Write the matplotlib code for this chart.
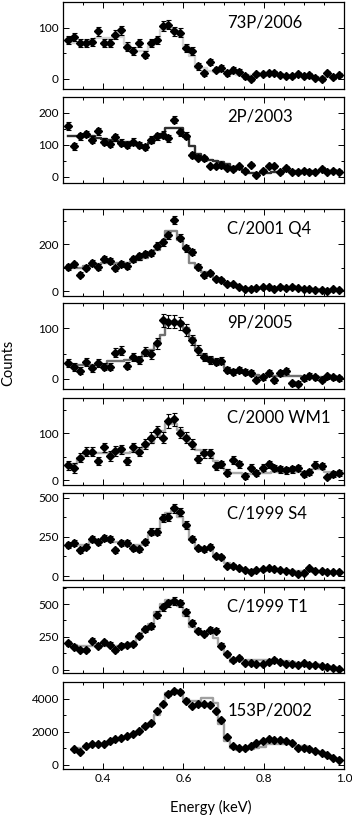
import matplotlib
matplotlib.use("Agg")
import matplotlib.pyplot as plt
from matplotlib.ticker import MultipleLocator

plt.rcParams['font.family'] = ['Lato', 'DejaVu Sans']

energy = [0.313, 0.328, 0.342, 0.357, 0.372, 0.386, 0.401, 0.416, 0.430, 0.445,
          0.460, 0.474, 0.489, 0.504, 0.518, 0.533, 0.548, 0.562, 0.577, 0.592,
          0.606, 0.621, 0.636, 0.650, 0.665, 0.680, 0.694, 0.709, 0.724, 0.738,
          0.753, 0.768, 0.782, 0.797, 0.812, 0.826, 0.841, 0.856, 0.870, 0.885,
          0.900, 0.914, 0.929, 0.944, 0.958, 0.973, 0.988]

names = ["73P/2006", "2P/2003", "C/2001 Q4", "9P/2005",
         "C/2000 WM1", "C/1999 S4", "C/1999 T1", "153P/2002"]

counts_73p = [76, 81, 70, 70, 72, 93, 70, 70, 86, 95, 63, 54, 70, 47, 70, 76, 103, 106, 93, 90,
              60, 54, 24, 11, 32, 18, 21, 11, 18, 14, 5, 0, 10, 10, 12, 12, 8, 6, 5, 10,
              6, 8, 1, 0, 12, 3, 8]
err_73p = [8, 8, 8, 8, 8, 9, 8, 8, 9, 9, 8, 8, 8, 7, 8, 8, 9, 9, 9, 9, 8, 8, 6, 5, 6, 5, 5, 5, 5, 5,
           5, 4, 4, 4, 4, 4, 4, 4, 4, 4, 4, 4, 4, 4, 4, 4, 4]
model_73p = [70, 70, 70, 72, 75, 80, 80, 80, 82, 82, 68, 58, 55, 55, 65, 75, 95, 100, 98, 90,
             65, 45, 22, 22, 16, 14, 14, 12, 10, 8, 6, 8, 8, 8, 8, 7, 7, 6, 6, 5,
             5, 4, 4, 3, 3, 3, 3]

counts_2p = [158, 95, 126, 134, 116, 142, 110, 102, 123, 107, 100, 110, 100, 93, 116, 126, 132, 121, 179, 140,
             129, 68, 60, 58, 32, 32, 37, 28, 24, 32, 18, 37, 5, 18, 32, 32, 14, 28, 14, 14,
             18, 14, 16, 24, 16, 18, 16]
err_2p = [12, 10, 10, 10, 10, 11, 10, 10, 10, 10, 10, 10, 10, 9, 10, 10, 11, 11, 12, 11, 11, 8, 8, 8, 6, 6,
          6, 6, 5, 5, 5, 5, 4, 5, 5, 5, 5, 5, 5, 5, 5, 5, 5, 5, 5, 5, 5]
model_2p = [126, 126, 126, 126, 126, 121, 118, 115, 112, 110, 108, 105, 100, 95, 105, 120, 135, 152, 152, 152,
            125, 95, 70, 60, 52, 50, 45, 40, 30, 25, 15, 12, 12, 12, 12, 14, 16, 18, 18, 18,
            18, 18, 18, 18, 18, 18, 18]

counts_q4 = [104, 114, 71, 101, 119, 104, 138, 130, 97, 116, 107, 136, 148, 159, 162, 194, 209, 238, 303, 228,
             184, 167, 104, 68, 78, 54, 49, 29, 29, 17, 10, 10, 13, 17, 17, 10, 20, 14, 20, 13,
             10, 10, 6, 6, 3, 10, 6]
err_q4 = [12, 12, 10, 12, 12, 12, 13, 13, 12, 12, 12, 13, 13, 14, 14, 15, 15, 16, 17, 16, 15, 14, 12, 10, 10,
          8, 8, 6, 6, 5, 5, 5, 5, 5, 5, 5, 5, 5, 5, 5, 5, 5, 5, 5, 5, 5, 5]
model_q4 = [97, 97, 97, 107, 107, 115, 119, 119, 119, 119, 122, 126, 132, 141, 160, 177, 200, 256, 256, 220,
            184, 119, 97, 80, 75, 55, 49, 35, 25, 18, 12, 12, 12, 13, 13, 13, 13, 13, 13, 12,
            10, 10, 8, 6, 6, 6, 6]

counts_9p = [31, 24, 16, 34, 21, 31, 24, 24, 52, 56, 26, 43, 38, 54, 49, 70, 116, 113, 113, 110,
             97, 76, 57, 43, 38, 34, 36, 18, 14, 18, 14, 12, -2, 3, 12, -3, 12, 16, -9, -10,
             1, 6, 3, -2, 5, 3, 1]
err_9p = [8, 8, 7, 8, 7, 8, 7, 7, 9, 9, 7, 8, 8, 9, 9, 10, 13, 13, 13, 13, 12, 10, 9, 8, 8, 7, 7, 6, 6, 6,
          6, 6, 5, 5, 6, 5, 6, 6, 5, 5, 5, 5, 5, 5, 5, 5, 5]
model_9p = [28, 28, 28, 28, 28, 28, 28, 36, 36, 36, 38, 41, 41, 51, 58, 67, 87, 113, 113, 113,
            100, 80, 60, 48, 42, 38, 36, 21, 18, 16, 14, 10, 8, 6, 6, 6, 6, 6, 5, 5,
            3, 3, 3, 3, 3, 3, 3]

counts_wm1 = [32, 26, 48, 61, 61, 41, 70, 52, 62, 66, 41, 70, 61, 77, 91, 104, 91, 126, 130, 101,
              91, 77, 45, 57, 57, 30, 34, 16, 43, 34, 9, 27, 16, 27, 34, 26, 23, 21, 23, 26,
              13, 18, 33, 30, 7, 14, 16]
err_wm1 = [10, 10, 10, 10, 10, 9, 10, 10, 10, 10, 9, 10, 10, 11, 11, 12, 12, 14, 14, 12, 12, 11, 9, 10, 10,
           8, 8, 7, 9, 8, 6, 7, 6, 7, 8, 7, 7, 7, 7, 7, 6, 6, 7, 7, 5, 6, 6]
model_wm1 = [34, 34, 48, 59, 59, 59, 59, 59, 59, 59, 59, 60, 62, 70, 80, 95, 105, 119, 119, 108,
             94, 77, 65, 59, 55, 41, 30, 22, 16, 16, 13, 13, 13, 15, 16, 18, 18, 18, 18, 18,
             18, 20, 23, 23, 18, 15, 13]

counts_s4 = [198, 209, 166, 187, 234, 219, 245, 234, 166, 209, 209, 177, 170, 219, 283, 283, 368, 379, 432, 411,
             326, 234, 177, 170, 187, 128, 123, 64, 64, 49, 38, 28, 38, 43, 49, 43, 38, 34, 28, 13,
             17, 49, 32, 32, 28, 28, 28]
err_s4 = [18, 18, 16, 17, 19, 18, 20, 19, 16, 18, 18, 16, 16, 18, 22, 22, 26, 26, 27, 26, 23, 19, 16, 16, 17,
          14, 14, 10, 10, 9, 8, 7, 8, 8, 9, 8, 8, 8, 7, 6, 6, 9, 7, 7, 7, 7, 7]
model_s4 = [187, 198, 198, 200, 220, 230, 230, 225, 215, 212, 209, 200, 198, 220, 260, 290, 357, 400, 417, 380,
            330, 230, 177, 177, 170, 134, 110, 81, 60, 49, 40, 36, 36, 36, 36, 36, 36, 34, 32, 30,
            30, 30, 28, 28, 28, 28, 28]

counts_t1 = [202, 172, 152, 152, 222, 184, 210, 192, 152, 184, 189, 197, 260, 311, 336, 419, 475, 505, 525, 505,
             437, 354, 298, 273, 303, 298, 184, 121, 71, 91, 51, 51, 45, 45, 58, 76, 58, 45, 45, 33,
             51, 38, 33, 25, 20, 15, 8]
err_t1 = [18, 16, 15, 15, 18, 17, 18, 17, 15, 17, 17, 17, 20, 22, 23, 25, 27, 28, 29, 28, 26, 23, 21, 20, 21,
          21, 17, 14, 10, 12, 9, 9, 9, 9, 10, 11, 10, 9, 9, 8, 9, 8, 8, 7, 6, 5, 4]
model_t1 = [197, 190, 180, 177, 184, 184, 184, 184, 184, 184, 184, 202, 247, 298, 348, 437, 500, 530, 530, 487,
            412, 323, 285, 285, 285, 242, 197, 121, 60, 71, 71, 71, 71, 71, 71, 68, 66, 66, 60, 51,
            51, 45, 45, 35, 25, 20, 12]

energy_153p = energy[1:]
counts_153p = [929, 788, 1131, 1232, 1232, 1273, 1434, 1535, 1636, 1737, 1879, 2040, 2343, 2545, 3252, 3697,
               4263, 4465, 4424, 3859, 3556, 3657, 3657, 3616, 3252, 2687, 1677, 1131, 1030, 1030, 1131, 1333,
               1434, 1535, 1495, 1475, 1434, 1333, 1030, 990, 929, 828, 727, 586, 384, 263]
err_153p = [40, 45, 50, 55, 55, 55, 58, 60, 62, 65, 67, 70, 75, 80, 90, 95, 100, 100, 100, 95, 93, 94, 94,
            94, 90, 80, 63, 52, 50, 50, 52, 56, 58, 60, 60, 60, 59, 57, 52, 50, 47, 44, 42, 37, 30, 25]
model_153p = [828, 1030, 1100, 1180, 1230, 1280, 1380, 1480, 1580, 1700, 1780, 2000, 2300, 2444, 3000, 3600,
              4364, 4364, 4364, 3960, 3860, 3860, 4061, 4061, 3758, 2444, 1434, 1030, 869, 869, 930, 990,
              1100, 1232, 1232, 1232, 1273, 1273, 1131, 1131, 1000, 828, 700, 525, 400, 263]

panels = [
    (energy, counts_73p, err_73p, model_73p),
    (energy, counts_2p, err_2p, model_2p),
    (energy, counts_q4, err_q4, model_q4),
    (energy, counts_9p, err_9p, model_9p),
    (energy, counts_wm1, err_wm1, model_wm1),
    (energy, counts_s4, err_s4, model_s4),
    (energy, counts_t1, err_t1, model_t1),
    (energy_153p, counts_153p, err_153p, model_153p),
]

# layout / style (pixels in a 352x816 figure)
W, H = 352, 816
tops = [2, 97, 209, 303, 398, 493, 587, 682]
bots = [89, 183, 296, 389, 485, 580, 673, 769]
left_px, right_px = 63, 344
ylims = [(-20, 150), (-20, 250), (-20, 350), (-20, 150), (-10, 175), (-25, 530), (-25, 630), (-250, 5000)]
ymaj = [100, 100, 200, 100, 100, 250, 250, 2000]
ymin = [50, 50, 100, 50, 50, 125, 125, 1000]
line_cols = ['#d4d4d4', '#303030', '#858585', '#707070', '#ababab', '#ababab', '#a8a8a8', '#a0a0a0']
label_y = [0.76, 0.77, 0.77, 0.77, 0.78, 0.77, 0.77, 0.67]

fig = plt.figure(figsize=(W / 100, H / 100), dpi=100)
for k, (x, y, e, m) in enumerate(panels):
    ax = fig.add_axes([left_px / W, 1 - bots[k] / H, (right_px - left_px) / W, (bots[k] - tops[k]) / H])
    ax.step(x, m, where='mid', color=line_cols[k], lw=1.7, zorder=1)
    ax.errorbar(x, y, yerr=e, fmt='D', color='black', ms=3.7, elinewidth=0.8,
                capsize=1.8, capthick=0.8, zorder=2)
    ax.set_xlim(0.3, 1.0)
    ax.set_ylim(*ylims[k])
    ax.xaxis.set_major_locator(MultipleLocator(0.2))
    ax.xaxis.set_minor_locator(MultipleLocator(0.05))
    ax.yaxis.set_major_locator(MultipleLocator(ymaj[k]))
    ax.yaxis.set_minor_locator(MultipleLocator(ymin[k]))
    ax.tick_params(which='both', direction='in', top=True, right=True, labelsize=8.5,
                   width=0.7, pad=3)
    ax.tick_params(which='major', length=4)
    ax.tick_params(which='minor', length=2.5)
    if k < 7:
        ax.tick_params(labelbottom=False)
    else:
        ax.set_xticks([0.4, 0.6, 0.8, 1.0])
        ax.set_xticklabels(['0.4', '0.6', '0.8', '1.0'])
    for s in ax.spines.values():
        s.set_linewidth(0.9)
    ax.text(0.584, label_y[k], names[k], transform=ax.transAxes, fontsize=12,
            ha='left', va='center')

fig.text(0.024, 1 - 363 / H, 'Counts', rotation=90, ha='center', va='center', fontsize=10.5)
fig.text(211 / W, 1 - 807 / H, 'Energy (keV)', ha='center', va='center', fontsize=10.5)

fig.savefig('out.png', dpi=100)
